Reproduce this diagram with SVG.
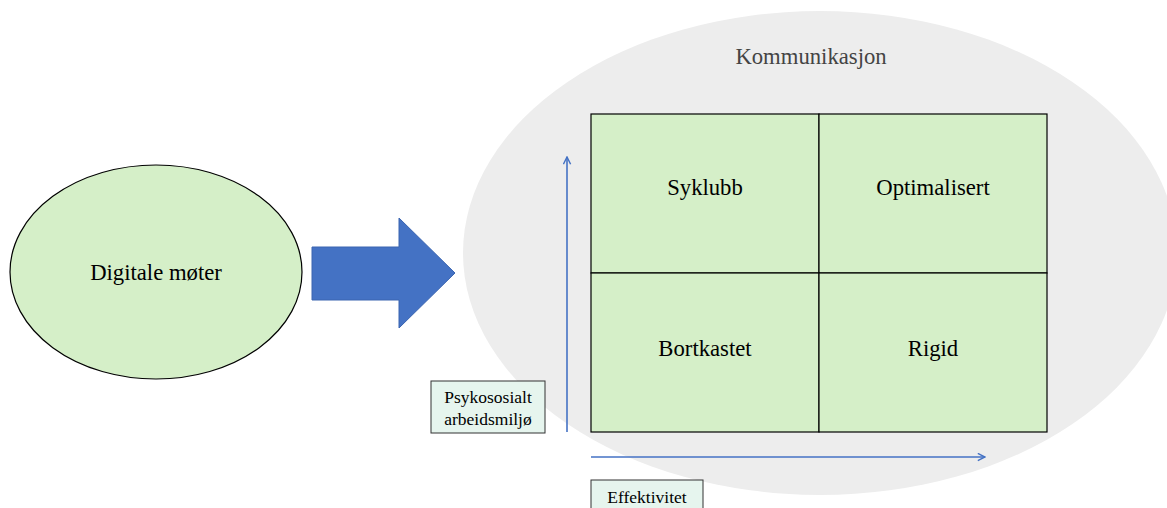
<svg xmlns="http://www.w3.org/2000/svg" width="1167" height="508" viewBox="0 0 1167 508">
<defs>
<style>
text{font-family:"Liberation Serif","Times New Roman",serif;fill:#000}
.big{font-size:22.7px}
.small{font-size:17.5px}
.cell{fill:#d5efc8;stroke:#000;stroke-width:1.2}
.lbl{fill:#e6f5ee;stroke:#333;stroke-width:1}
.ax{stroke:#4472c4;stroke-width:1.6;fill:none}
</style>
<marker id="ah" viewBox="0 0 10 10" refX="9" refY="5" markerWidth="9" markerHeight="9" orient="auto" markerUnits="userSpaceOnUse">
<path d="M1,1 L9,5 L1,9" fill="none" stroke="#4472c4" stroke-width="1.6"/>
</marker>
</defs>
<rect width="1167" height="508" fill="#fff"/>
<g id="kommunikasjon">
<ellipse cx="820" cy="253" rx="357" ry="242" fill="#ededed"/>
<text class="big" x="811" y="64" text-anchor="middle" style="fill:#444">Kommunikasjon</text>
</g>
<g id="digitale">
<ellipse cx="156" cy="272" rx="146" ry="107" fill="#d5efc8" stroke="#000" stroke-width="1.2"/>
<text class="big" x="156" y="280" text-anchor="middle">Digitale møter</text>
</g>
<g id="syklubb">
<rect class="cell" x="591" y="114" width="228" height="159"/>
<text class="big" x="705" y="195" text-anchor="middle">Syklubb</text>
</g>
<g id="optimalisert">
<rect class="cell" x="819" y="114" width="228" height="159"/>
<text class="big" x="933" y="195" text-anchor="middle">Optimalisert</text>
</g>
<g id="bortkastet">
<rect class="cell" x="591" y="273" width="228" height="159"/>
<text class="big" x="705" y="356" text-anchor="middle">Bortkastet</text>
</g>
<g id="rigid">
<rect class="cell" x="819" y="273" width="228" height="159"/>
<text class="big" x="933" y="356" text-anchor="middle">Rigid</text>
</g>
<g id="psykososialt">
<rect class="lbl" x="431" y="381" width="114" height="52"/>
<text class="small" x="488" y="403" text-anchor="middle">Psykososialt</text>
<text class="small" x="488" y="425" text-anchor="middle">arbeidsmiljø</text>
</g>
<g id="effektivitet">
<rect class="lbl" x="591" y="480" width="112" height="40"/>
<text class="small" x="647" y="503" text-anchor="middle">Effektivitet</text>
</g>
<g id="connectors">
<path d="M312,247 H399 V218 L455,273 L399,328 V300 H312 Z" fill="#4472c4" stroke="#3a64b0" stroke-width="1"/>
<line class="ax" x1="567" y1="432" x2="567" y2="157" marker-end="url(#ah)"/>
<line class="ax" x1="591" y1="457" x2="985" y2="457" marker-end="url(#ah)"/>
</g>
</svg>
